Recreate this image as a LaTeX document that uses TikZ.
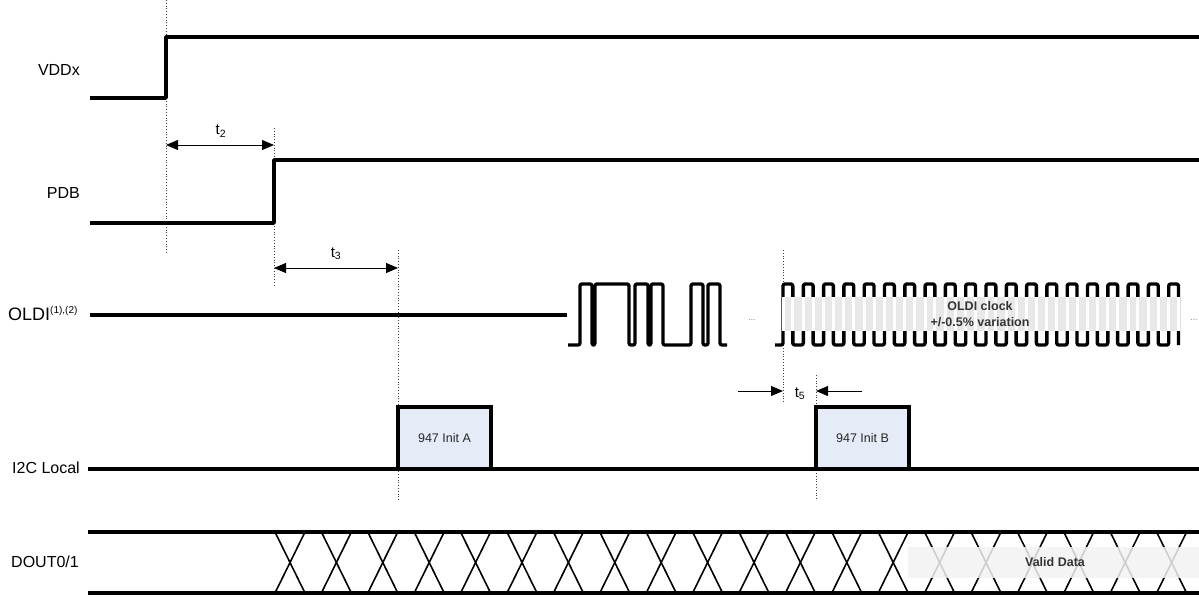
\documentclass[tikz,border=0pt]{standalone}
\usepackage{fontspec}
\setmainfont{Liberation Sans}
\usetikzlibrary{arrows.meta}
\definecolor{initfill}{RGB}{230,236,247}
\begin{document}
\begin{tikzpicture}[x=1pt,y=-1pt,
  sig/.style={line width=3.4pt, line join=round},
  xline/.style={line width=1.6pt},
  guide/.style={line width=0.8pt, dotted, black!75},
  dimline/.style={line width=0.8pt},
  tip/.tip={Triangle[length=12pt,width=10pt]},
  lbl/.style={font=\fontsize{16}{18}\selectfont, inner sep=0pt, anchor=east},
  tlbl/.style={font=\fontsize{15}{17}\selectfont, inner sep=0pt},
  initbox/.style={line width=3.3pt, fill=initfill},
  boxtxt/.style={font=\fontsize{12.5}{14}\selectfont, text=black!85},
  graytxt/.style={font=\bfseries\fontsize{12.5}{14}\selectfont, text=black!80, inner sep=0pt},
  dots/.style={font=\fontsize{8}{9}\selectfont, text=black!60, inner sep=0pt}
]
\useasboundingbox (0,0) rectangle (1199,599);

% ---------- guides ----------
\coordinate (g1t) at (166,0);   \coordinate (g1b) at (166,253);
\coordinate (g2t) at (274,128); \coordinate (g2b) at (274,285);
\coordinate (g3t) at (398,250); \coordinate (g3b) at (398,500);
\coordinate (g4t) at (783,250); \coordinate (g4b) at (783,402);
\coordinate (g5t) at (816,375); \coordinate (g5b) at (816,500);
\draw[guide] (g1t) -- (g1b);
\draw[guide] (g2t) -- (g2b);
\draw[guide] (g3t) -- (g3b);
\draw[guide] (g4t) -- (g4b);
\draw[guide] (g5t) -- (g5b);

% ---------- VDDx ----------
\node[lbl] (lvdd) at (80,70) {VDDx};
\draw[sig] (90,98) -- (166,98) -- (166,37) -- (1199,37);

% ---------- t2 ----------
\coordinate (t2a) at (166,145); \coordinate (t2b) at (274,145);
\draw[dimline, tip-tip] (t2a) -- (t2b);
\node[tlbl] (lt2) at (221,131) {t\textsubscript{2}};

% ---------- PDB ----------
\node[lbl] (lpdb) at (80,193) {PDB};
\draw[sig] (90,223) -- (274,223) -- (274,160) -- (1199,160);

% ---------- t3 ----------
\coordinate (t3a) at (274,268); \coordinate (t3b) at (398,268);
\draw[dimline, tip-tip] (t3a) -- (t3b);
\node[tlbl] (lt3) at (336,254) {t\textsubscript{3}};

% ---------- OLDI ----------
\node[lbl, anchor=west, font=\fontsize{18}{20}\selectfont] (loldi) at (8,313) {OLDI\raisebox{7pt}{\fontsize{10}{11}\selectfont(1),(2)}};
\draw[sig] (90,315) -- (567,315);
\draw[sig, rounded corners=2pt] (568,345) -- (580,345) -- (580,284) -- (592,284) -- (592,345)
  -- (595,345) -- (595,284) -- (629,284) -- (629,345) -- (635,345) -- (635,284) -- (648,284)
  -- (648,345) -- (651,345) -- (651,284) -- (663,284) -- (663,345) -- (691,345) -- (691,284)
  -- (703,284) -- (703,345) -- (708,345) -- (708,284) -- (720,284) -- (720,345) -- (727,345);
\node[dots] (d1) at (752,320) {...};
% clock
\draw[sig, rounded corners=2pt] (775,345)
  foreach \k in {0,...,19} { -- ({783+\k*20.3},345) -- ({783+\k*20.3},284) -- ({792.8+\k*20.3},284) -- ({792.8+\k*20.3},345) };
\fill[gray!18] (784,297) rectangle (1178,331);
\foreach \k in {0,...,19} {
  \draw[white, line width=3pt] ({783+\k*20.3},297) -- ({783+\k*20.3},331);
  \draw[white, line width=3pt] ({792.8+\k*20.3},297) -- ({792.8+\k*20.3},331);
}
\node[graytxt] (clk1) at (980,306) {OLDI clock};
\node[graytxt] (clk2) at (980,322) {+/-0.5\% variation};
\node[dots] (d2) at (1194,320) {...};

% ---------- t5 ----------
\coordinate (t5l) at (738,391); \coordinate (t5lt) at (783,391);
\coordinate (t5r) at (862,391); \coordinate (t5rt) at (816,391);
\draw[dimline, -tip] (t5l) -- (t5lt);
\draw[dimline, -tip] (t5r) -- (t5rt);
\node[tlbl] (lt5) at (800,394) {t\textsubscript{5}};

% ---------- I2C Local ----------
\node[lbl] (li2c) at (80,468) {I2C Local};
\draw[sig] (88,469) -- (1199,469);
\draw[initbox] (398,469) rectangle (491,407);
\node[boxtxt] (ia) at (444.5,438) {947 Init A};
\draw[initbox] (816,469) rectangle (909,407);
\node[boxtxt] (ib) at (862.5,438) {947 Init B};

% ---------- DOUT0/1 ----------
\node[lbl] (ldout) at (79,562) {DOUT0/1};
\begin{scope}
\clip (270,520) rectangle (1199,599);
\foreach \k in {0,...,20} {
  \draw[xline] ({275+\k*46.4},532) -- ({305+\k*46.4},593);
  \draw[xline] ({305+\k*46.4},532) -- ({275+\k*46.4},593);
}
\end{scope}
\fill[gray!10, fill opacity=0.85] (908,547) rectangle (1199,578);
\node[graytxt] (vd) at (1055,562) {Valid Data};
\draw[sig] (88,532) -- (1199,532);
\draw[sig] (88,593) -- (1199,593);
\end{tikzpicture}
\end{document}
